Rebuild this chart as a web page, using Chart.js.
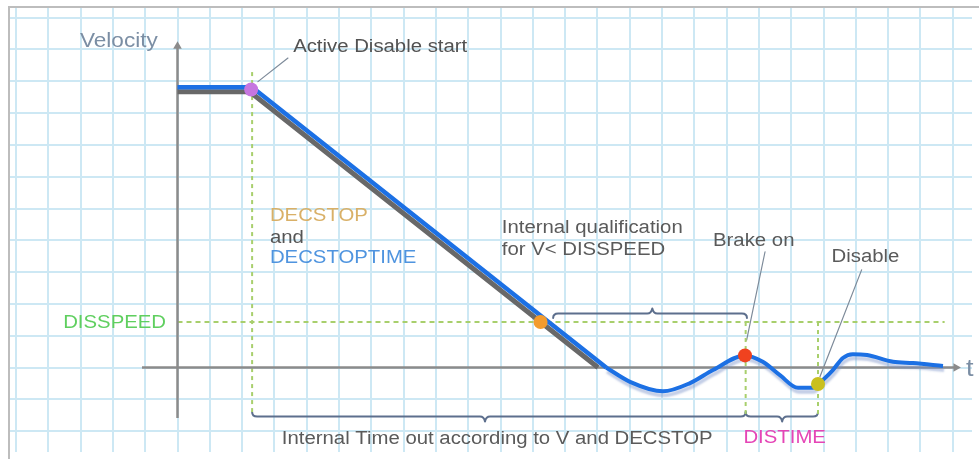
<!DOCTYPE html>
<html>
<head>
<meta charset="utf-8">
<title>Velocity</title>
<script src="https://cdn.jsdelivr.net/npm/chart.js@4/dist/chart.umd.min.js"></script>
<style>
  html, body { margin: 0; padding: 0; background: #ffffff; }
  #wrap { position: relative; width: 979px; height: 459px; overflow: hidden; background: #ffffff; }
  #wrap canvas { position: absolute; left: 0; top: 0; }
  #frame { position: absolute; left: 8px; top: 6px; width: 990px; height: 470px;
           border-left: 2px solid #bdbdbd; border-top: 2px solid #bdbdbd; pointer-events: none; }
</style>
</head>
<body>
<div id="wrap">
  <canvas id="chart" width="979" height="459"></canvas>
  <div id="frame"></div>
</div>
<script>
// Units: one grid cell per unit on both axes (time to the right, velocity up).

// Velocity threshold
const disSpeed = 1.43;

// Commanded stop profile (grey)
const commandedProfile = [
  { x: 0, y: 8.67 }, { x: 2.24, y: 8.67 }, { x: 13.02, y: 0 }
];

// Actual velocity: constant speed then linear deceleration
const rampPhase = [
  { x: 0, y: 8.81 }, { x: 2.31, y: 8.81 }, { x: 13.27, y: 0 }
];

// Actual velocity after reaching zero: settling oscillation
const settlePhase = [
  { x: 13.27, y: 0 },     { x: 14.01, y: -0.45 }, { x: 15.03, y: -0.75 },
  { x: 15.87, y: -0.49 }, { x: 16.58, y: -0.08 }, { x: 17.57, y: 0.38 },
  { x: 18.12, y: 0.18 },  { x: 18.65, y: -0.24 }, { x: 19.21, y: -0.64 },
  { x: 19.64, y: -0.64 }, { x: 19.83, y: -0.52 }, { x: 20.29, y: -0.08 },
  { x: 20.60, y: 0.30 },  { x: 20.91, y: 0.42 },  { x: 21.35, y: 0.39 },
  { x: 22.15, y: 0.18 },  { x: 22.77, y: 0.14 },  { x: 23.70, y: 0.05 }
];

// Events along the stop sequence
const eventTimes  = [2.28, 11.24, 17.57, 19.83];
const eventSpeeds = [8.74, disSpeed, 0.38, -0.52];
const eventColors = ['#c676e0', '#f39b2d', '#f0421f', '#c9c01f'];

// Dashed guide lines
const guideTimes   = [2.31, 17.59, 19.83];
const guideTops    = [9.29, disSpeed, disSpeed];
const guideBottom  = -1.46;
const disSpeedSpan = [0, 23.75];

// Axes extents
const timeAxisSpan     = [-1.1, 24.1];
const velocityAxisSpan = [-1.59, 10.1];

// Braces: start, end, tip, level, tip direction (+1 up, -1 down)
const braceStart = [11.63, 2.31, 17.59];
const braceEnd   = [17.63, 17.59, 19.83];
const braceTip   = [14.70, 9.52, 18.72];
const braceLevel = [1.70, -1.54, -1.54];
const braceDir   = [1, -1, -1];

// Leader lines from events to their captions
const leaderFromX = [2.49, 17.62, 19.89];
const leaderFromY = [8.99, 0.86, -0.29];
const leaderToX   = [3.42, 18.19, 21.18];
const leaderToY   = [9.73, 3.64, 3.07];

// Captions (left edge, baseline)
const labelTexts = ['Velocity', 't', 'Active Disable start', 'DECSTOP', 'and', 'DECSTOPTIME',
  'Internal qualification', 'for V< DISSPEED', 'Brake on', 'Disable', 'DISSPEED',
  'Internal Time out according to V and DECSTOP', 'DISTIME'];
const labelX = [-3.02, 24.41, 3.58, 2.86, 2.86, 2.86, 10.04, 10.04, 16.58, 20.25, -3.54, 3.23, 17.52];
const labelY = [10.09, -0.27, 9.93, 4.62, 3.92, 3.28, 4.22, 3.54, 3.82, 3.33, 1.23, -2.42, -2.38];
const labelColors = ['#7b8ea4', '#7b8ea4', '#525252', '#d9b067', '#555555', '#4f94df',
  '#5a5a5a', '#5a5a5a', '#5a5a5a', '#5a5a5a', '#5fcf5f', '#5a5a5a', '#e545b6'];
const labelSizes = [20, 24, 18, 18, 18, 18, 18, 18, 18, 18, 18, 18, 18];

// Viewport: pixel of the origin and pixels per grid cell
const originPx = { x: 177.5, y: 367.5 };
const cellPx = { x: 32.3, y: 31.8 };

const guideColor = '#a8cf6c';
const axisColor = '#8b8b8b';

const guideSets = guideTimes.map((t, i) => ({
  data: [{ x: t, y: guideTops[i] }, { x: t, y: guideBottom }],
  borderColor: guideColor, borderWidth: 2, borderDash: [4, 4],
  pointRadius: 0, order: 5
}));

const annotations = {
  id: 'annotations',
  beforeDatasetsDraw(chart) {
    const { ctx, scales: { x, y } } = chart;
    ctx.save();
    // braces
    ctx.strokeStyle = '#5d6f8d';
    ctx.lineWidth = 2;
    ctx.lineCap = 'round';
    ctx.lineJoin = 'round';
    braceStart.forEach((b, i) => {
      const x1 = x.getPixelForValue(b), x2 = x.getPixelForValue(braceEnd[i]);
      const xm = x.getPixelForValue(braceTip[i]), yb = y.getPixelForValue(braceLevel[i]);
      const d = braceDir[i];
      const h = 4.5, t = 5;
      const yEnd = yb + d * h;       // hooks bend away from the tip
      const yTip = yb - d * t;
      ctx.beginPath();
      ctx.moveTo(x1, yEnd);
      ctx.quadraticCurveTo(x1, yb, x1 + 5, yb);
      ctx.lineTo(xm - t, yb);
      ctx.quadraticCurveTo(xm - 1, yb, xm, yTip);
      ctx.quadraticCurveTo(xm + 1, yb, xm + t, yb);
      ctx.lineTo(x2 - 5, yb);
      ctx.quadraticCurveTo(x2, yb, x2, yEnd);
      ctx.stroke();
    });
    // leader lines
    ctx.strokeStyle = '#7d8a99';
    ctx.lineWidth = 1.2;
    leaderFromX.forEach((lx, i) => {
      ctx.beginPath();
      ctx.moveTo(x.getPixelForValue(lx), y.getPixelForValue(leaderFromY[i]));
      ctx.lineTo(x.getPixelForValue(leaderToX[i]), y.getPixelForValue(leaderToY[i]));
      ctx.stroke();
    });
    ctx.restore();
  },
  afterDatasetsDraw(chart) {
    const { ctx, scales: { x, y } } = chart;
    ctx.save();
    ctx.textBaseline = 'alphabetic';
    ctx.textAlign = 'left';
    labelTexts.forEach((s, i) => {
      ctx.save();
      ctx.font = labelSizes[i] + 'px "Liberation Sans", Arial, sans-serif';
      ctx.fillStyle = labelColors[i];
      ctx.translate(x.getPixelForValue(labelX[i]), y.getPixelForValue(labelY[i]));
      ctx.scale(1.13, 1);
      ctx.fillText(s, 0, 0);
      ctx.restore();
    });
    ctx.restore();
  },
  beforeDatasetDraw(chart, args) {
    const ds = chart.data.datasets[args.index];
    if (ds.softShadow) {
      const ctx = chart.ctx;
      ctx.save();
      ctx.shadowColor = 'rgba(120, 145, 200, 0.45)';
      ctx.shadowOffsetX = 1;
      ctx.shadowOffsetY = 4;
      ctx.shadowBlur = 2;
    }
  },
  afterDatasetDraw(chart, args) {
    const ds = chart.data.datasets[args.index];
    if (ds.softShadow) chart.ctx.restore();
  }
};

const gridScale = () => ({
  type: 'linear', min: 0, max: 1,
  afterBuildTicks(scale) {
    const ticks = [];
    for (let v = Math.ceil(scale.min); v <= Math.floor(scale.max); v++) ticks.push({ value: v });
    scale.ticks = ticks;
  },
  ticks: { display: false },
  border: { display: false },
  grid: { color: '#cde8f4', lineWidth: 2, drawTicks: false }
});

const chart = new Chart(document.getElementById('chart'), {
  type: 'line',
  data: {
    datasets: [
      {
        label: 'Events',
        data: eventTimes.map((t, i) => ({ x: t, y: eventSpeeds[i] })),
        showLine: false, pointRadius: 7, pointHoverRadius: 7,
        pointBackgroundColor: eventColors, pointBorderWidth: 0, order: 0
      },
      {
        label: 'Velocity',
        data: rampPhase, borderColor: '#1c70e4', borderWidth: 4.5,
        pointRadius: 0, tension: 0, order: 1
      },
      {
        label: 'Velocity settling',
        data: settlePhase, borderColor: '#1c70e4', borderWidth: 4,
        pointRadius: 0, cubicInterpolationMode: 'monotone', order: 1, softShadow: true
      },
      {
        label: 'Commanded',
        data: commandedProfile, borderColor: '#686868', borderWidth: 5,
        pointRadius: 0, tension: 0, order: 2
      },
      {
        label: 't axis',
        data: [{ x: timeAxisSpan[0], y: 0 }, { x: timeAxisSpan[1], y: 0 }],
        borderColor: axisColor, borderWidth: 2.5,
        pointRadius: [0, 5], pointStyle: 'triangle', pointRotation: 90,
        pointBackgroundColor: axisColor, pointBorderWidth: 0, order: 3
      },
      {
        label: 'Velocity axis',
        data: [{ x: 0, y: velocityAxisSpan[0] }, { x: 0, y: velocityAxisSpan[1] }],
        borderColor: axisColor, borderWidth: 2.5,
        pointRadius: [0, 5], pointStyle: 'triangle', pointRotation: 0,
        pointBackgroundColor: axisColor, pointBorderWidth: 0, order: 3
      },
      {
        label: 'DISSPEED',
        data: [{ x: disSpeedSpan[0], y: disSpeed }, { x: disSpeedSpan[1], y: disSpeed }],
        borderColor: guideColor, borderWidth: 2, borderDash: [5, 4],
        pointRadius: 0, order: 5
      },
      ...guideSets
    ]
  },
  options: {
    responsive: false,
    animation: false,
    devicePixelRatio: 1,
    events: [],
    layout: { padding: { left: 10, top: 8, right: 0, bottom: 0 } },
    plugins: { legend: { display: false }, tooltip: { enabled: false } },
    scales: { x: gridScale(), y: gridScale() }
  },
  plugins: [annotations]
});

// Fit the value ranges to the laid-out plot area so one unit spans one grid cell
const area = chart.chartArea;
chart.options.scales.x.min = (area.left - originPx.x) / cellPx.x;
chart.options.scales.x.max = (area.right - originPx.x) / cellPx.x;
chart.options.scales.y.min = (originPx.y - area.bottom) / cellPx.y;
chart.options.scales.y.max = (originPx.y - area.top) / cellPx.y;
chart.update();
</script>
</body>
</html>
